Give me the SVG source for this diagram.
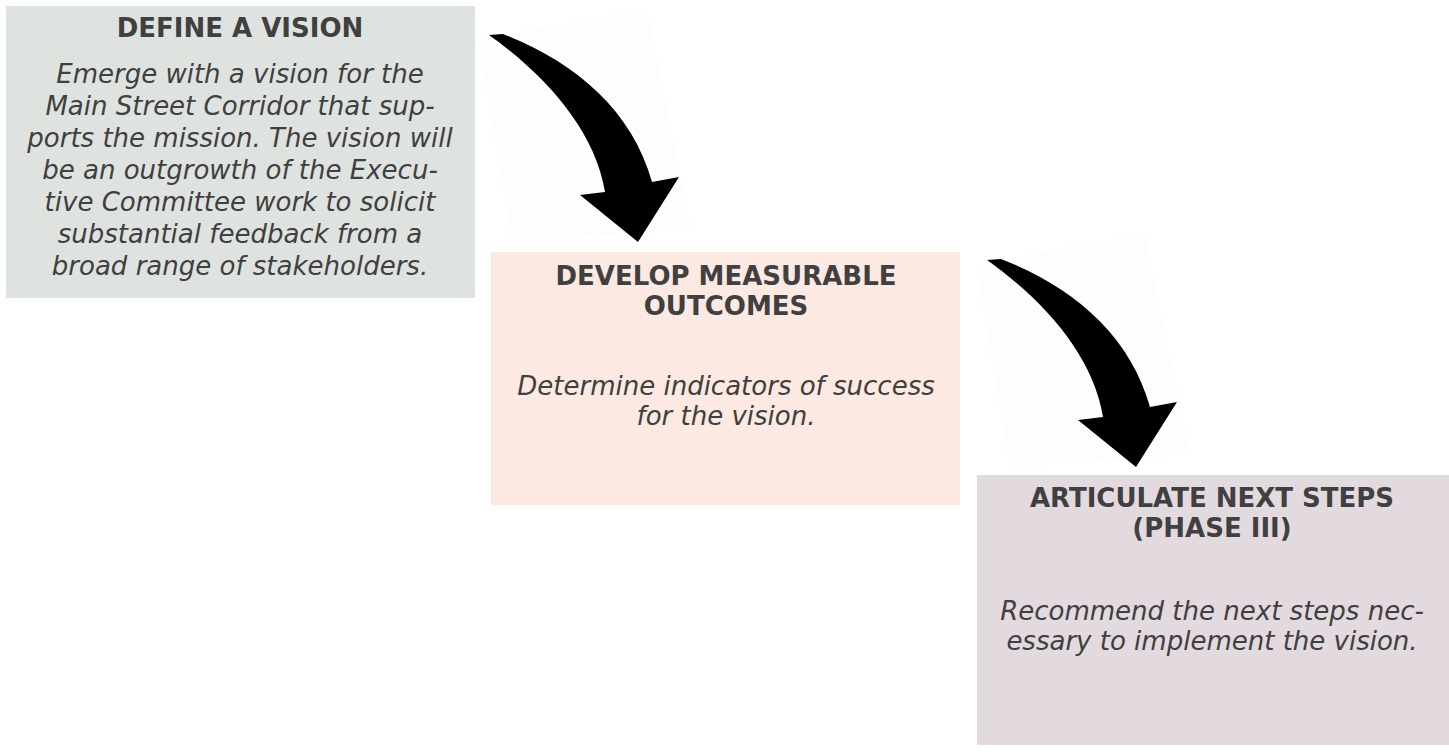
<svg xmlns="http://www.w3.org/2000/svg" xmlns:xlink="http://www.w3.org/1999/xlink" width="1449" height="754" viewBox="0 0 1449 754">
<style>
.title{font-family:"DejaVu Sans","Liberation Sans",sans-serif;font-weight:700;font-size:26px;fill:#404040;text-anchor:middle}
.body{font-family:"DejaVu Sans","Liberation Sans",sans-serif;font-style:italic;font-size:26px;fill:#404040;text-anchor:middle}
.arrow{fill:#000}
.halo{fill:#fdfdfd}
</style>
<defs>
<path id="arw" d="M489,35 L503,34 C575,62 632,110 652,182 L679,177 L638,242 L580,195 L605,192 C595,130 545,75 489,35 Z"/>
</defs>
<rect width="1449" height="754" fill="#fff"/>
<g id="connectors">
<g id="arrow1">
<polygon class="halo" points="478,40 647,8 692,230 512,242"/>
<use xlink:href="#arw" class="arrow"/>
</g>
<g id="arrow2" transform="translate(498,225)">
<polygon class="halo" points="478,40 647,8 692,230 512,242"/>
<use xlink:href="#arw" class="arrow"/>
</g>
</g>
<g id="node-vision">
<rect x="6" y="6" width="469" height="292" fill="#dfe3df"/>
<text class="title" x="240" y="37">DEFINE A VISION</text>
<text class="body" x="240"><tspan x="240" y="83">Emerge with a vision for the</tspan><tspan x="240" y="115">Main Street Corridor that sup-</tspan><tspan x="240" y="147">ports the mission. The vision will</tspan><tspan x="240" y="179">be an outgrowth of the Execu-</tspan><tspan x="240" y="211">tive Committee work to solicit</tspan><tspan x="240" y="243">substantial feedback from a</tspan><tspan x="240" y="275">broad range of stakeholders.</tspan></text>
</g>
<g id="node-outcomes">
<rect x="491" y="252" width="469" height="253" fill="#fbe9e2"/>
<text class="title"><tspan x="726" y="285">DEVELOP MEASURABLE</tspan><tspan x="726" y="315">OUTCOMES</tspan></text>
<text class="body"><tspan x="726" y="395">Determine indicators of success</tspan><tspan x="726" y="425">for the vision.</tspan></text>
</g>
<g id="node-nextsteps">
<rect x="977" y="475" width="472" height="270" fill="#e3dadf"/>
<text class="title"><tspan x="1212" y="507">ARTICULATE NEXT STEPS</tspan><tspan x="1212" y="537">(PHASE III)</tspan></text>
<text class="body"><tspan x="1212" y="620">Recommend the next steps nec-</tspan><tspan x="1212" y="650">essary to implement the vision.</tspan></text>
</g>
</svg>
